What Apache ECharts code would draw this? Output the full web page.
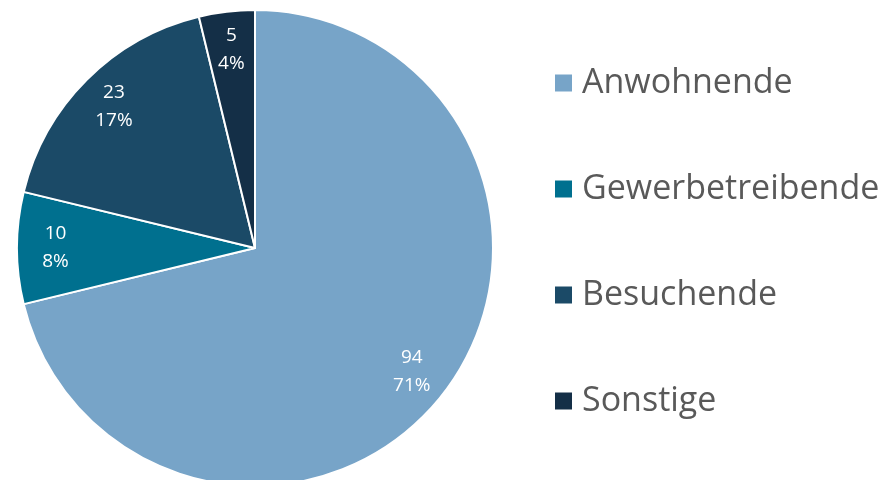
<!DOCTYPE html>
<html>
<head>
<meta charset="utf-8">
<script src="https://cdn.jsdelivr.net/npm/echarts@6/dist/echarts.min.js"></script>
<style>html,body{margin:0;padding:0;background:#fff}#c{width:886px;height:480px}</style>
</head>
<body>
<div id="c"></div>
<script>
const categories = ['Anwohnende', 'Gewerbetreibende', 'Besuchende', 'Sonstige'];
const values = [94, 10, 23, 5];
const colors = ['#77a4c8', '#00708f', '#1b4a67', '#142f47'];

const data = categories.map((n, i) => ({ name: n, value: values[i], itemStyle: { color: colors[i] } }));
const labelData = categories.map((n, i) => ({ name: n, value: values[i] }));

const chart = echarts.init(document.getElementById('c'), null, { renderer: 'canvas' });
chart.setOption({
  animation: false,
  backgroundColor: '#ffffff',
  legend: {
    orient: 'vertical',
    left: 548,
    top: 58,
    itemWidth: 19,
    itemHeight: 19,
    itemGap: 66,
    icon: 'rect',
    data: categories,
    textStyle: { fontFamily: 'Open Sans', fontSize: 34, color: '#595959', lineHeight: 40, padding: [0, 0, 0, 4] }
  },
  series: [
    {
      type: 'pie',
      center: [255, 248],
      radius: [0, 238],
      startAngle: 90,
      clockwise: true,
      silent: true,
      label: { show: false },
      labelLine: { show: false },
      itemStyle: { borderColor: '#ffffff', borderWidth: 2 },
      data: data
    },
    {
      type: 'pie',
      center: [255, 248],
      radius: [155, 238],
      startAngle: 90,
      clockwise: true,
      silent: true,
      itemStyle: { color: 'rgba(0,0,0,0)', borderWidth: 0 },
      emphasis: { disabled: true },
      labelLine: { show: false },
      label: {
        show: true,
        position: 'inside',
        fontFamily: 'Open Sans',
        fontSize: 19,
        lineHeight: 28,
        color: '#ffffff',
        formatter: p => p.value + '\n' + Math.round(p.percent) + '%'
      },
      data: labelData
    }
  ]
});
</script>
</body>
</html>
